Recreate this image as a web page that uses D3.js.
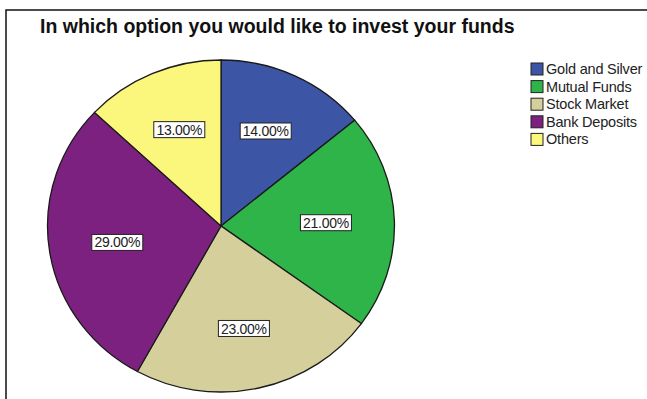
<!DOCTYPE html>
<html>
<head>
<meta charset="utf-8">
<script src="https://cdn.jsdelivr.net/npm/d3@7"></script>
<style>
  body { margin: 0; background: #fff; }
  svg { display: block; font-family: Arial, "Liberation Sans", sans-serif; }
</style>
</head>
<body>
<svg width="647" height="399"></svg>
<script>
// chart data
var categories = ["Gold and Silver", "Mutual Funds", "Stock Market", "Bank Deposits", "Others"];
var shares = [14, 21, 23, 29, 13];
var colors = ["#3c55a5", "#2fb44a", "#d5cf9c", "#7d2181", "#fbf67c"];

function main(){
    var svg = d3.select("svg");

    // outer frame (runs off the right and bottom edge)
    svg.append("rect")
        .attr("x", 6).attr("y", 10)
        .attr("width", 700).attr("height", 500)
        .attr("fill", "none")
        .attr("stroke", "#111")
        .attr("stroke-width", 1.5);

    svg.append("text")
        .attr("x", 40)
        .attr("y", 33)
        .attr("font-size", "19.5px")
        .attr("font-weight", "bold")
        .attr("fill", "#111")
        .text("In which option you would like to invest your funds");

    var data = categories.map(function(c, i){ return {name: c, value: shares[i], color: colors[i]}; });

    var r = 166;
    var pie = d3.pie().sort(null).value(function(d){ return d.value; });
    var arc = d3.arc().innerRadius(0).outerRadius(r);
    var labelArc = d3.arc().innerRadius(105).outerRadius(105);

    // the picture is a little wider than tall
    var g = svg.append("g").attr("transform", "translate(221,226)");
    var slices = g.append("g").attr("transform", "scale(1.045,1)");

    slices.selectAll("path")
        .data(pie(data))
        .enter()
        .append("path")
        .attr("d", arc)
        .attr("fill", function(d){ return d.data.color; })
        .attr("stroke", "#1a1a1a")
        .attr("stroke-width", 1.3)
        .attr("vector-effect", "non-scaling-stroke");

    var labels = g.selectAll(".lbl")
        .data(pie(data))
        .enter()
        .append("g")
        .attr("class", "lbl")
        .attr("transform", function(d){
            var c = labelArc.centroid(d);
            return "translate(" + c[0] + "," + c[1] + ")";
        });

    labels.append("rect")
        .attr("x", -25.5).attr("y", -8)
        .attr("width", 51).attr("height", 16)
        .attr("fill", "#fff")
        .attr("stroke", "#222")
        .attr("stroke-width", 1);

    labels.append("text")
        .attr("text-anchor", "middle")
        .attr("dy", "0.36em")
        .attr("font-size", "14px")
        .attr("letter-spacing", "-0.3px")
        .attr("fill", "#222")
        .text(function(d){ return d.data.value.toFixed(2) + "%"; });

    // legend
    var leg = svg.append("g").attr("transform", "translate(531,63)");
    var rows = leg.selectAll("g")
        .data(data)
        .enter()
        .append("g")
        .attr("transform", function(d, i){ return "translate(0," + (i * 17.6) + ")"; });

    rows.append("rect")
        .attr("width", 12).attr("height", 12)
        .attr("fill", function(d){ return d.color; })
        .attr("stroke", "#222")
        .attr("stroke-width", 1);

    rows.append("text")
        .attr("x", 15)
        .attr("y", 11)
        .attr("font-size", "14.5px")
        .attr("letter-spacing", "-0.2px")
        .attr("fill", "#222")
        .text(function(d){ return d.name; });
}
main();
</script>
</body>
</html>
